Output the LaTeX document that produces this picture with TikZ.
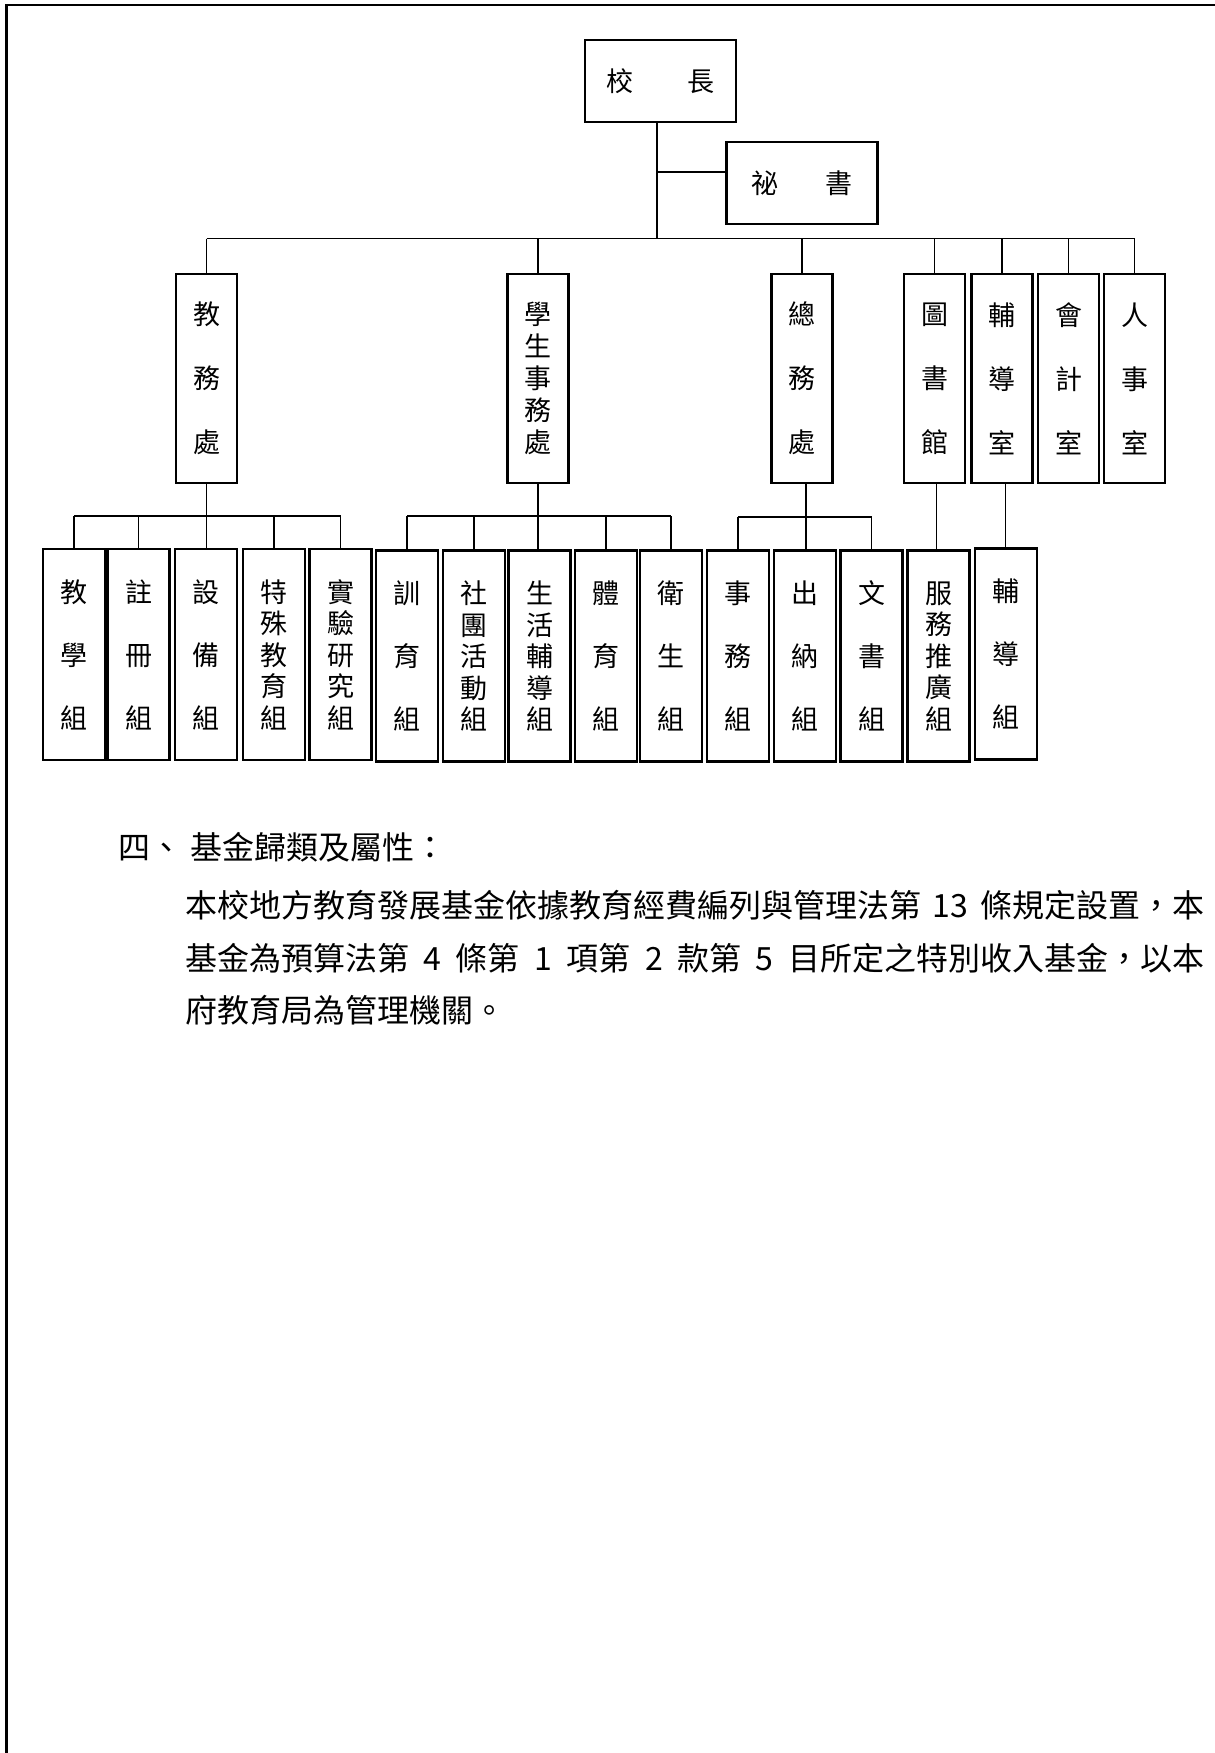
\documentclass[tikz,border=0pt]{standalone}
\usepackage{fontspec}
\newfontfamily\cjk{Noto Sans CJK TC}
\XeTeXlinebreaklocale "zh"
\XeTeXlinebreakskip=0pt plus 6pt
\begin{document}
\begin{tikzpicture}[x=1pt,y=-1pt,
  orgbox/.style={draw, line width=2.3pt, inner sep=0pt, fill=white},
  topbox/.style={orgbox, minimum width=151pt, minimum height=82pt, font=\cjk\fontsize{27}{27}\selectfont},
  lvtwo/.style={orgbox, minimum width=61pt, minimum height=209pt, align=center, font=\cjk\fontsize{27}{64}\selectfont},
  lvtwofive/.style={lvtwo, font=\cjk\fontsize{27}{32}\selectfont},
  lvthree/.style={orgbox, minimum width=62pt, minimum height=211pt, align=center, font=\cjk\fontsize{27}{63}\selectfont},
  lvthreefive/.style={lvthree, font=\cjk\fontsize{27}{31.5}\selectfont},
  conn/.style={line width=1.8pt},
  thinconn/.style={line width=1.2pt},
  paratext/.style={font=\cjk\fontsize{32}{32}\selectfont, anchor=west, inner sep=0pt}
]
\useasboundingbox (0,0) rectangle (1215,1753);
% page frame
\draw[line width=2.2pt] (6.5,1753) -- (6.5,5) -- (1215,5);

% top
\node[topbox] (xz) at (660.5,81) {校\hspace{54pt}長};
\node[topbox] (ms) at (802,183) {祕\hspace{48pt}書};

% level 2
\node[lvtwo] (jw) at (206.5,378.5) {教\\務\\處};
\node[lvtwofive] (xs) at (538,378.5) {學\\生\\事\\務\\處};
\node[lvtwo] (zw) at (802,378.5) {總\\務\\處};
\node[lvtwo] (ts) at (934.5,378.5) {圖\\書\\館};
\node[lvtwo] (fd) at (1002,378.5) {輔\\導\\室};
\node[lvtwo] (kj) at (1068.5,378.5) {會\\計\\室};
\node[lvtwo] (rs) at (1134.5,378.5) {人\\事\\室};

% level 3
\node[lvthree] (c1) at (74,654.5) {教\\學\\組};
\node[lvthree] (c2) at (138.5,654.5) {註\\冊\\組};
\node[lvthree] (c3) at (206,654.5) {設\\備\\組};
\node[lvthreefive] (c4) at (274,654.5) {特\\殊\\教\\育\\組};
\node[lvthreefive] (c5) at (340.5,654.5) {實\\驗\\研\\究\\組};
\node[lvthree] (c6) at (407,656) {訓\\育\\組};
\node[lvthreefive] (c7) at (474,656) {社\\團\\活\\動\\組};
\node[lvthreefive] (c8) at (539.5,656) {生\\活\\輔\\導\\組};
\node[lvthree] (c9) at (606,656) {體\\育\\組};
\node[lvthree] (c10) at (671,656) {衛\\生\\組};
\node[lvthree] (c11) at (738,656) {事\\務\\組};
\node[lvthree] (c12) at (805,656) {出\\納\\組};
\node[lvthree] (c13) at (871.5,656) {文\\書\\組};
\node[lvthreefive] (c14) at (938.5,656) {服\\務\\推\\廣\\組};
\node[lvthree] (c15) at (1006,654) {輔\\導\\組};

% connectors top
\coordinate (tb) at (0,238.5);
\coordinate (sj) at (657,172);
\draw[conn] ([xshift=-3.5pt]xz.south) -- ([xshift=-3.5pt]xz.south |- tb);
\draw[thinconn] (sj) -- (ms.west |- sj);
\draw[conn] (jw.north |- tb) -- (rs.north |- tb);
\foreach \n in {jw,xs,zw,ts,fd,kj,rs} \draw[conn] (\n.north |- tb) -- (\n.north);

% combs
\coordinate (ba) at (0,516);
\draw[conn] (jw.south) -- (jw.south |- c3.north);
\draw[conn] (c1.north |- ba) -- (c5.north |- ba);
\foreach \n in {c1,c2,c4,c5} \draw[conn] (\n.north |- ba) -- (\n.north);

\draw[conn] (xs.south) -- (xs.south |- c8.north);
\draw[conn] (c6.north |- ba) -- (c10.north |- ba);
\foreach \n in {c6,c7,c9,c10} \draw[conn] (\n.north |- ba) -- (\n.north);

\coordinate (bc) at (0,517);
\draw[conn] ([xshift=4pt]zw.south) -- ([xshift=4pt]zw.south |- c12.north);
\draw[conn] (c11.north |- bc) -- (c13.north |- bc);
\foreach \n in {c11,c13} \draw[conn] (\n.north |- bc) -- (\n.north);

\draw[conn] ([xshift=2pt]ts.south) -- ([xshift=2pt]ts.south |- c14.north);
\draw[conn] ([xshift=3.5pt]fd.south) -- ([xshift=3.5pt]fd.south |- c15.north);

% text
\node[paratext] (h4) at (118,847) {四、\hspace{8pt}基金歸類及屬性：};
\node[paratext] (p1) at (185,905) {\makebox[1019pt][s]{本校地方教育發展基金依據教育經費編列與管理法第 13 條規定設置，本}};
\node[paratext] (p2) at (185,958) {\makebox[1019pt][s]{基金為預算法第 4 條第 1 項第 2 款第 5 目所定之特別收入基金，以本}};
\node[paratext] (p3) at (185,1010) {府教育局為管理機關。};
\end{tikzpicture}
\end{document}
